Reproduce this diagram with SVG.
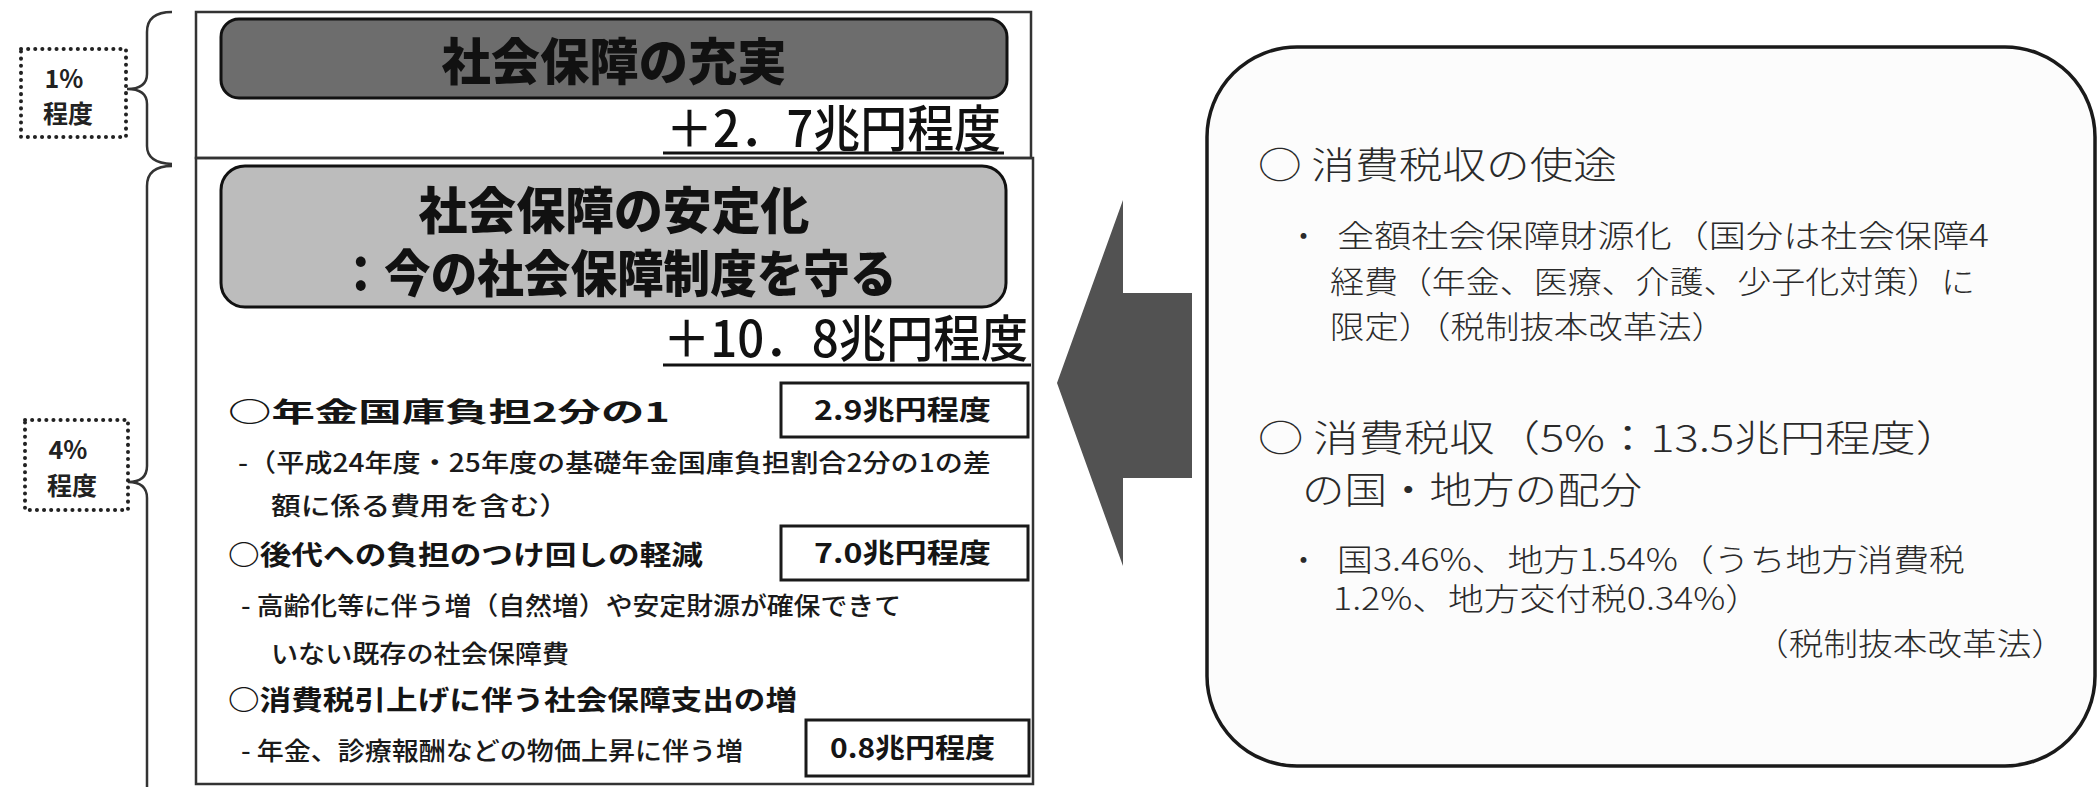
<svg xmlns="http://www.w3.org/2000/svg" width="2100" height="787" viewBox="0 0 2100 787">
<defs>
<style>
.jp{font-family:"Noto Sans CJK JP","Noto Sans CJK SC",sans-serif;}
.title{font-size:50px;font-weight:900;fill:#111;text-anchor:middle;}
.amt{font-size:50px;font-weight:500;fill:#111;}
.item{font-size:27px;font-weight:700;fill:#151515;}
.sub{font-size:25px;font-weight:500;fill:#1a1a1a;}
.box{fill:#fff;stroke:#1a1a1a;stroke-width:3;}
.frame{fill:none;stroke:#333;stroke-width:2.5;}
.brace{fill:none;stroke:#333;stroke-width:2.5;}
.dot{fill:#fff;stroke:#222;stroke-width:4;stroke-dasharray:0.1 7;stroke-linecap:round;}
.pct{font-size:25px;font-weight:700;fill:#222;text-anchor:middle;}
.rh{font-size:37px;font-weight:300;fill:#2a2a2a;}
.rt{font-size:31px;font-weight:300;fill:#2a2a2a;}
</style>
</defs>
<rect width="2100" height="787" fill="#fff"/>

<g id="braces">
<path class="brace" d="M172,12 Q147,12 147,32 L147,74 Q147,89 127,89 Q147,89 147,104 L147,146 Q147,163 172,164"/>
<path class="brace" d="M172,166 Q147,166 147,186 L147,466 Q147,482 128,482 Q147,482 147,498 L147,790"/>
</g>

<g id="pct1">
<rect class="dot" x="21" y="49" width="105" height="88"/>
<text class="jp pct" x="64" y="88">1%</text>
<text class="jp pct" x="68" y="123">程度</text>
</g>
<g id="pct4">
<rect class="dot" x="25" y="420" width="103" height="90"/>
<text class="jp pct" x="68" y="459">4%</text>
<text class="jp pct" x="72" y="495">程度</text>
</g>

<g id="panel-enhance">
<rect class="frame" x="196" y="12" width="835" height="146"/>
<rect x="221" y="19" width="786" height="79" rx="18" fill="#6d6d6d" stroke="#111" stroke-width="3"/>
<text class="jp title" x="614" y="80" textLength="345" lengthAdjust="spacingAndGlyphs">社会保障の充実</text>
<text class="jp amt" x="666" y="147" textLength="335" lengthAdjust="spacingAndGlyphs">＋2．7兆円程度</text>
<line x1="663" y1="153" x2="1004" y2="153" stroke="#111" stroke-width="3"/>
</g>

<g id="panel-stabilize">
<rect class="frame" x="196" y="158" width="837" height="626"/>
<rect x="221" y="166" width="785" height="141" rx="24" fill="#bcbcbc" stroke="#111" stroke-width="3"/>
<text class="jp title" x="614" y="229" textLength="391" lengthAdjust="spacingAndGlyphs">社会保障の安定化</text>
<text class="jp title" x="617" y="292" textLength="559" lengthAdjust="spacingAndGlyphs">：今の社会保障制度を守る</text>
<text class="jp amt" x="663" y="357" textLength="365" lengthAdjust="spacingAndGlyphs">＋10．8兆円程度</text>
<line x1="663" y1="365" x2="1031" y2="365" stroke="#111" stroke-width="3"/>
</g>

<g id="item-pension">
<text class="jp item" x="228" y="422" textLength="442" lengthAdjust="spacingAndGlyphs">○年金国庫負担2分の1</text>
<rect class="box" x="781" y="383" width="247" height="54"/>
<text class="jp item" x="814" y="420" textLength="177" lengthAdjust="spacingAndGlyphs">2.9兆円程度</text>
<text class="jp sub" x="238" y="472" textLength="753" lengthAdjust="spacingAndGlyphs">-（平成24年度・25年度の基礎年金国庫負担割合2分の1の差</text>
<text class="jp sub" x="271" y="515" textLength="298" lengthAdjust="spacingAndGlyphs">額に係る費用を含む）</text>
</g>

<g id="item-burden">
<text class="jp item" x="228" y="565" textLength="475" lengthAdjust="spacingAndGlyphs">○後代への負担のつけ回しの軽減</text>
<rect class="box" x="781" y="526" width="247" height="54"/>
<text class="jp item" x="814" y="563" textLength="177" lengthAdjust="spacingAndGlyphs">7.0兆円程度</text>
<text class="jp sub" x="241" y="615" textLength="660" lengthAdjust="spacingAndGlyphs">- 高齢化等に伴う増（自然増）や安定財源が確保できて</text>
<text class="jp sub" x="271" y="663" textLength="298" lengthAdjust="spacingAndGlyphs">いない既存の社会保障費</text>
</g>

<g id="item-tax">
<text class="jp item" x="228" y="710" textLength="569" lengthAdjust="spacingAndGlyphs">○消費税引上げに伴う社会保障支出の増</text>
<text class="jp sub" x="241" y="760" textLength="502" lengthAdjust="spacingAndGlyphs">- 年金、診療報酬などの物価上昇に伴う増</text>
<rect class="box" x="806" y="720" width="223" height="56"/>
<text class="jp item" x="830" y="758" textLength="165" lengthAdjust="spacingAndGlyphs">0.8兆円程度</text>
</g>

<g id="connectors">
<polygon points="1057,383 1123,200 1123,293 1192,293 1192,478 1123,478 1123,566" fill="#525252"/>
</g>

<g id="panel-tax">
<rect x="1207" y="47" width="888" height="719" rx="90" ry="90" fill="#fcfcfc" stroke="#1a1a1a" stroke-width="3.5"/>
<text class="jp rh" x="1258" y="179" textLength="359" lengthAdjust="spacingAndGlyphs">○ 消費税収の使途</text>
<text class="jp rt" x="1288" y="247">・</text>
<text class="jp rt" x="1337" y="247" textLength="652" lengthAdjust="spacingAndGlyphs">全額社会保障財源化（国分は社会保障4</text>
<text class="jp rt" x="1330" y="293" textLength="645" lengthAdjust="spacingAndGlyphs">経費（年金、医療、介護、少子化対策）に</text>
<text class="jp rt" x="1330" y="338" textLength="396" lengthAdjust="spacingAndGlyphs">限定）（税制抜本改革法）</text>
<text class="jp rh" x="1258" y="452" textLength="703" lengthAdjust="spacingAndGlyphs">○ 消費税収（5%：13.5兆円程度）</text>
<text class="jp rh" x="1302" y="504" textLength="340" lengthAdjust="spacingAndGlyphs">の国・地方の配分</text>
<text class="jp rt" x="1288" y="571">・</text>
<text class="jp rt" x="1337" y="571" textLength="628" lengthAdjust="spacingAndGlyphs">国3.46%、地方1.54%（うち地方消費税</text>
<text class="jp rt" x="1333" y="610" textLength="428" lengthAdjust="spacingAndGlyphs">1.2%、地方交付税0.34%）</text>
<text class="jp rt" x="1754" y="655" textLength="312" lengthAdjust="spacingAndGlyphs">（税制抜本改革法）</text>
</g>
</svg>
